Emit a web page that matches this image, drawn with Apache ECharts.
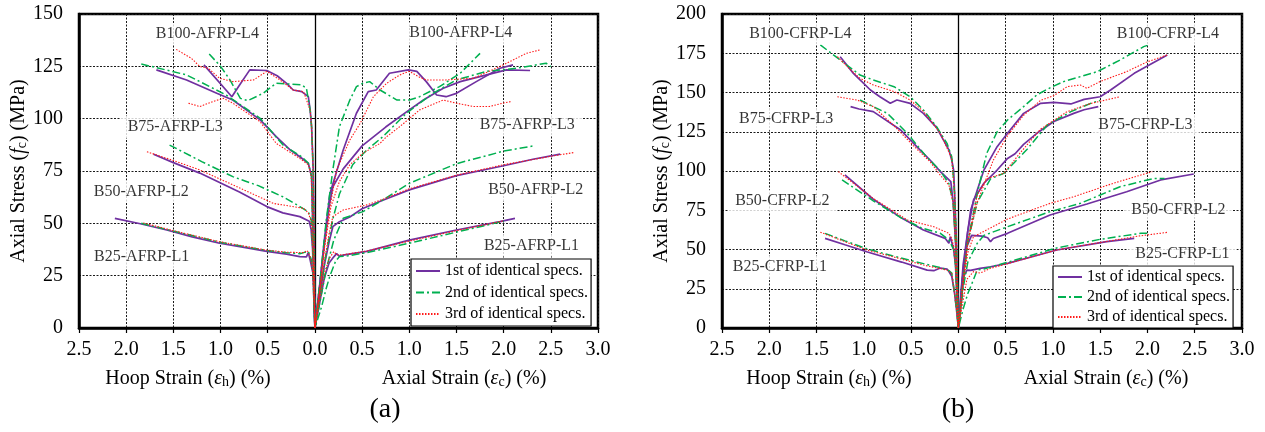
<!DOCTYPE html>
<html>
<head>
<meta charset="utf-8">
<script src="https://cdn.jsdelivr.net/npm/echarts@6/dist/echarts.min.js"></script>
<style>html,body{margin:0;padding:0;background:#fff}#c{width:1265px;height:432px}</style>
</head>
<body>
<div id="c"></div>
<script>
// ---------- tick labels ----------
const xTicks = [-2.5,-2.0,-1.5,-1.0,-0.5,0,0.5,1.0,1.5,2.0,2.5,3.0];
const yTicksA = [0,25,50,75,100,125,150];
const yTicksB = [0,25,50,75,100,125,150,175,200];
const replicateNames = ['1st of identical specs.','2nd of identical specs.','3rd of identical specs.'];

// ---------- panel (a) AFRP : [strain %, stress MPa]; hoop strain stored positive ----------
const aL1r1Hoop = [[0,0],[0.01,12],[0.02,26],[0.04,33],[0.05,32.5],[0.07,36],[0.09,34],[0.16,34.1],[0.3,35.3],[0.51,36.6],[0.75,38.5],[1.01,40.5],[1.3,43.5],[1.57,46.8],[1.85,49.8],[2.12,52.4]];
const aL1r2Hoop = [[0,0],[0.01,12],[0.02,26],[0.04,33],[0.07,36.6],[0.12,36],[0.16,35.5],[0.3,36],[0.51,37],[1.01,41],[1.5,46.3],[1.84,50]];
const aL1r3Hoop = [[0,0],[0.01,14],[0.025,28],[0.05,34],[0.08,37],[0.12,36],[0.3,36.2],[0.51,37.2],[1.01,41.2],[1.5,46.5],[1.82,50.2]];
const aL1r1Axial = [[0,0],[0.05,12],[0.1,24],[0.15,31],[0.2,34],[0.23,35.5],[0.26,34.2],[0.3,34.8],[0.55,36.6],[1.0,42],[1.5,46.8],[1.96,50.8],[2.12,52.4]];
const aL1r2Axial = [[0,0],[0.07,10],[0.12,19],[0.16,25],[0.22,32],[0.26,34.1],[0.35,34.5],[0.55,36],[1.0,40.5],[1.5,45.8],[2.0,51]];
const aL1r3Axial = [[0,0],[0.05,13],[0.1,26],[0.15,33],[0.2,36.5],[0.23,35],[0.3,35],[0.55,36.8],[1.0,41.5],[1.5,46.5],[2.0,51.2]];

const aL2r1Hoop = [[0,0],[0.01,20],[0.025,38],[0.04,47],[0.06,51],[0.16,53.2],[0.34,55],[0.51,58],[0.8,65],[1.22,74],[1.5,79],[1.71,83]];
const aL2r2Hoop = [[0,0],[0.01,20],[0.025,40],[0.04,52],[0.07,55.5],[0.16,58],[0.34,62.7],[0.6,68],[0.87,72.3],[1.2,79.5],[1.54,87.4]];
const aL2r3Hoop = [[0,0],[0.01,20],[0.025,40],[0.04,51],[0.07,55],[0.12,57.2],[0.44,59.5],[0.51,61],[0.9,69],[1.22,75.5],[1.5,80],[1.78,84.2]];
const aL2r1Axial = [[0,0],[0.05,15],[0.1,30],[0.15,41],[0.19,48.4],[0.26,50.8],[0.37,53],[0.5,57],[0.72,61],[1.0,66],[1.5,72.8],[2.0,77.5],[2.31,80.6],[2.6,83.1]];
const aL2r2Axial = [[0,0],[0.06,14],[0.12,28],[0.2,42],[0.3,52.4],[0.51,55.6],[0.72,61.2],[1.0,69.1],[1.5,78.5],[2.0,84.5],[2.33,87.1]];
const aL2r3Axial = [[0,0],[0.05,17],[0.1,32],[0.15,45],[0.19,53.2],[0.3,56.4],[0.55,58.8],[0.75,62],[1.0,66.5],[1.5,73],[2.0,78],[2.5,82],[2.74,83.8]];

const aL3r1Hoop = [[0,0],[0.01,15],[0.018,40],[0.03,62],[0.035,72.3],[0.07,78.7],[0.16,81.8],[0.26,85],[0.41,91.4],[0.58,99.4],[0.87,108.9],[1.04,112.1],[1.36,118.5],[1.68,123.3]];
const aL3r2Hoop = [[0,0],[0.01,15],[0.018,40],[0.03,62],[0.035,72.3],[0.07,78.7],[0.14,81.8],[0.34,87.5],[0.58,100.2],[0.94,111.3],[1.36,120.9],[1.84,126.1]];
const aL3r3Hoop = [[0,0],[0.01,15],[0.018,40],[0.03,62],[0.04,73],[0.07,78],[0.16,81],[0.41,88.2],[0.58,98.5],[0.87,107.4],[0.97,109.7],[1.08,108.2],[1.22,105.8],[1.34,107.4]];
const aL3r1Axial = [[0,0],[0.05,20],[0.1,40],[0.15,58],[0.19,67.5],[0.3,76],[0.5,87],[0.75,96],[1.0,104.2],[1.15,108.9],[1.36,114.5],[1.54,117.7],[1.82,120.9],[2.03,123.3],[2.28,123]];
const aL3r2Axial = [[0,0],[0.06,18],[0.12,36],[0.19,52],[0.26,64],[0.4,78],[0.55,85],[0.72,91.4],[0.97,102.6],[1.25,112.1],[1.5,118.5],[1.82,122.6],[2.14,124.1],[2.45,126.5],[2.5,124.9]];
const aL3r3Axial = [[0,0],[0.05,18],[0.1,38],[0.17,58],[0.26,70],[0.37,78],[0.51,83.5],[0.69,88.2],[0.76,91.4],[0.9,96.2],[1.11,104.2],[1.36,108.9],[1.5,107.4],[1.68,105.8],[1.85,105.8],[1.99,107.4],[2.08,108.2]];

const aL4r1Hoop = [[0,0],[0.01,50],[0.018,75.5],[0.035,96],[0.05,104],[0.07,110.5],[0.14,112.9],[0.23,113.7],[0.3,116.9],[0.4,120.5],[0.51,123],[0.69,123.3],[0.8,116],[0.88,110.5],[1.176,125.7]];
const aL4r2Hoop = [[0,0],[0.01,50],[0.018,75.5],[0.035,96],[0.05,104],[0.09,114.5],[0.14,116.1],[0.25,116.5],[0.41,116.9],[0.55,112.1],[0.71,108.6],[0.79,109.7],[0.9,118.5],[1.0,125],[1.12,130.9]];
const aL4r3Hoop = [[0,0],[0.01,50],[0.018,75.5],[0.035,96],[0.05,104],[0.12,112.9],[0.23,113.7],[0.37,118.5],[0.51,122.6],[0.65,118.5],[0.87,117.7],[1.01,119.3],[1.13,124.1],[1.22,124.9],[1.31,128.9],[1.47,133.1]];
const aL4r1Axial = [[0,0],[0.05,20],[0.1,42],[0.16,64.4],[0.3,85],[0.44,102.6],[0.565,112.9],[0.65,113.7],[0.79,121.7],[0.99,123.3],[1.08,122.6],[1.18,117.7],[1.29,111.3],[1.39,110.5],[1.5,112.1],[1.71,117.7],[1.96,124.1],[2.1,125.7]];
const aL4r2Axial = [[0,0],[0.06,25],[0.12,51.6],[0.19,75.5],[0.26,96.2],[0.37,108.9],[0.44,115.3],[0.51,116.9],[0.58,117.7],[0.69,113.7],[0.87,108.9],[1.0,108.9],[1.11,110.5],[1.32,115.3],[1.54,121.7],[1.75,131.2]];
const aL4r3Axial = [[0,0],[0.05,18],[0.1,38],[0.16,58],[0.23,75.5],[0.37,89.8],[0.48,97.8],[0.62,110.5],[0.76,116.9],[0.9,120.9],[1.0,122.6],[1.1,120],[1.18,118.5],[1.39,118.5],[1.68,119.3],[1.96,124.9],[2.24,131.2],[2.38,132.8]];

// ---------- panel (b) CFRP ----------
const bL1r1Hoop = [[0,0],[0.02,12],[0.04,22],[0.07,33],[0.1,36],[0.12,37.5],[0.19,38.2],[0.26,36.5],[0.33,36.9],[0.6,42],[0.97,48.6],[1.2,53],[1.41,57.1]];
const bL1r2Hoop = [[0,0],[0.02,12],[0.04,22],[0.07,35],[0.1,36.5],[0.19,38.5],[0.37,41],[0.7,46],[0.97,50.5],[1.2,55.5],[1.41,60.3]];
const bL1r3Hoop = [[0,0],[0.02,12],[0.04,22],[0.07,35],[0.12,36.9],[0.37,40.1],[0.7,45.5],[0.97,49.7],[1.2,55],[1.46,61]];
const bL1r1Axial = [[0,0],[0.03,16],[0.056,32.7],[0.09,36.9],[0.13,36.7],[0.23,38],[0.34,39],[0.52,41.2],[1.04,49.7],[1.57,55],[1.86,57.1]];
const bL1r2Axial = [[0,0],[0.05,12],[0.1,22],[0.13,26.3],[0.2,36.9],[0.27,37.6],[0.5,41.5],[1.04,51],[1.5,56.5],[1.93,60.3],[2.03,60.3]];
const bL1r3Axial = [[0,0],[0.04,14],[0.09,31],[0.16,35.9],[0.23,35],[0.34,38],[0.52,41],[1.04,49.7],[1.5,54.5],[1.9,58.5],[2.22,61]];

const bL2r1Hoop = [[0,0],[0.02,25],[0.03,40],[0.05,50],[0.085,58.2],[0.1,54],[0.14,57.1],[0.37,62.4],[0.6,70],[0.9,82],[1.2,97.5]];
const bL2r2Hoop = [[0,0],[0.02,25],[0.03,40],[0.05,50],[0.1,56],[0.19,60.3],[0.4,64],[0.6,70],[0.9,81],[1.23,94.3]];
const bL2r3Hoop = [[0,0],[0.02,25],[0.03,40],[0.05,52],[0.07,57],[0.1,60.3],[0.26,64.5],[0.54,68.8],[0.9,82.5],[1.27,99.6]];
const bL2r1Axial = [[0,0],[0.04,30],[0.09,52],[0.14,59],[0.25,58.5],[0.31,57.5],[0.34,55],[0.37,57],[0.52,60.3],[0.97,72],[1.36,79],[1.78,86.8],[2.14,94.3],[2.49,98.1]];
const bL2r2Axial = [[0,0],[0.05,25],[0.1,42],[0.2,54],[0.27,59],[0.52,64.5],[0.97,74.1],[1.29,79.4],[1.71,90],[2.07,95.3],[2.18,95.3]];
const bL2r3Axial = [[0,0],[0.05,28],[0.1,48],[0.16,58.2],[0.23,60.3],[0.52,69.4],[0.97,79.4],[1.22,83.6],[1.64,92.2],[2.05,99.6]];

const bL3r1Hoop = [[0,0],[0.03,55],[0.055,80],[0.08,93.2],[0.19,99.6],[0.3,107],[0.44,115.5],[0.61,126.1],[0.9,137.8],[1.05,139.5],[1.14,141]];
const bL3r2Hoop = [[0,0],[0.03,55],[0.055,80],[0.1,92],[0.19,100],[0.35,110],[0.54,124],[0.75,136.7],[0.9,141],[1.04,145.2]];
const bL3r3Hoop = [[0,0],[0.03,55],[0.055,80],[0.1,91],[0.2,98],[0.3,106],[0.44,114],[0.68,128.8],[0.9,141],[1.07,145.2],[1.28,147.3]];
const bL3r1Axial = [[0,0],[0.05,35],[0.1,62],[0.16,81.5],[0.27,92.2],[0.41,100.6],[0.52,108],[0.6,111],[0.69,117],[0.83,124],[1.01,131.5],[1.22,136.7],[1.33,139],[1.48,141]];
const bL3r2Axial = [[0,0],[0.05,30],[0.1,55],[0.2,80],[0.34,95],[0.48,98.5],[0.73,114],[0.94,129.3],[1.19,137.8],[1.4,143.1],[1.5,145]];
const bL3r3Axial = [[0,0],[0.05,30],[0.1,55],[0.2,85],[0.3,95],[0.48,98.5],[0.66,112],[0.87,126.7],[1.15,137.8],[1.4,143],[1.71,147.3]];

const bL4r1Hoop = [[0,0],[0.02,55],[0.04,85.8],[0.05,100.6],[0.07,107],[0.1,113.4],[0.23,127.6],[0.37,136.7],[0.51,143.1],[0.65,145.2],[0.72,143.1],[0.83,147.3],[0.93,151.6],[1.04,158],[1.11,162.2],[1.25,172.8]];
const bL4r2Hoop = [[0,0],[0.02,55],[0.04,85.8],[0.07,109.1],[0.12,117.6],[0.23,128.2],[0.37,138.9],[0.51,147.3],[0.68,153.7],[0.9,158],[1.04,161.1],[1.25,170.7],[1.46,180.3]];
const bL4r3Hoop = [[0,0],[0.02,55],[0.04,85.8],[0.07,108],[0.19,124],[0.37,138],[0.51,145.2],[0.68,150.6],[0.9,154.8],[1.04,159],[1.15,165],[1.28,172.8]];
const bL4r1Axial = [[0,0],[0.05,40],[0.13,75],[0.27,100.6],[0.41,115.5],[0.52,124],[0.69,136.7],[0.87,143.1],[1.01,143.7],[1.19,142.7],[1.33,145.6],[1.5,147.3],[1.61,151.6],[1.86,162.2],[2.21,173.9]];
const bL4r2Axial = [[0,0],[0.05,28],[0.09,52],[0.2,85.8],[0.3,111.3],[0.41,125],[0.52,132.5],[0.69,141],[0.83,148.5],[0.97,153],[1.11,156.9],[1.47,163.3],[1.71,170.7],[1.96,179.2],[2.0,180]];
const bL4r3Axial = [[0,0],[0.05,30],[0.1,55],[0.2,80],[0.37,107],[0.52,122.5],[0.69,135.5],[0.87,145],[1.01,148],[1.15,153.7],[1.29,154.8],[1.36,152.7],[1.5,157],[1.78,163.3],[2.0,169.6],[2.21,173.9]];

// ---------- curve labels (text, strain, stress) ----------
const labelsA = [
  ['B100-AFRP-L4',-1.14,140.5],['B100-AFRP-L4',1.545,140.8],
  ['B75-AFRP-L3',-1.48,96],['B75-AFRP-L3',2.25,97],
  ['B50-AFRP-L2',-1.84,65.2],['B50-AFRP-L2',2.34,65.8],
  ['B25-AFRP-L1',-1.836,33.9],['B25-AFRP-L1',2.295,39.4]
];
const labelsB = [
  ['B100-CFRP-L4',-1.672,187.4],['B100-CFRP-L4',2.217,187.4],
  ['B75-CFRP-L3',-1.822,133],['B75-CFRP-L3',1.979,129.3],
  ['B50-CFRP-L2',-1.862,81],['B50-CFRP-L2',2.328,75.3],
  ['B25-CFRP-L1',-1.887,39],['B25-CFRP-L1',2.37,47]
];

// ---------- build ----------
const FONT = '"Liberation Serif","Times New Roman",serif';
const repStyles = [
  {color:'#7030A0', type:'solid', width:1.7},
  {color:'#00B050', type:[8,3,2,3], width:1.5},
  {color:'#FF1A1A', type:[1.5,1.5], width:1.1}
];
const panelA = [
  [[aL1r1Hoop,aL1r1Axial],[aL1r2Hoop,aL1r2Axial],[aL1r3Hoop,aL1r3Axial]],
  [[aL2r1Hoop,aL2r1Axial],[aL2r2Hoop,aL2r2Axial],[aL2r3Hoop,aL2r3Axial]],
  [[aL3r1Hoop,aL3r1Axial],[aL3r2Hoop,aL3r2Axial],[aL3r3Hoop,aL3r3Axial]],
  [[aL4r1Hoop,aL4r1Axial],[aL4r2Hoop,aL4r2Axial],[aL4r3Hoop,aL4r3Axial]]
];
const panelB = [
  [[bL1r1Hoop,bL1r1Axial],[bL1r2Hoop,bL1r2Axial],[bL1r3Hoop,bL1r3Axial]],
  [[bL2r1Hoop,bL2r1Axial],[bL2r2Hoop,bL2r2Axial],[bL2r3Hoop,bL2r3Axial]],
  [[bL3r1Hoop,bL3r1Axial],[bL3r2Hoop,bL3r2Axial],[bL3r3Hoop,bL3r3Axial]],
  [[bL4r1Hoop,bL4r1Axial],[bL4r2Hoop,bL4r2Axial],[bL4r3Hoop,bL4r3Axial]]
];
function joinCurve(hoop, axial){
  const left = hoop.slice().reverse().map(p => [p[0] === 0 ? 0 : -p[0], p[1]]);
  return left.concat(axial.slice(1));
}
function panelSeries(panel, xi, yi){
  const out = [];
  for (let r = 0; r < 3; r++){
    panel.forEach(level => {
      const st = repStyles[r];
      out.push({
        type:'line', name: replicateNames[r], xAxisIndex: xi, yAxisIndex: yi,
        data: joinCurve(level[r][0], level[r][1]),
        symbol:'none', showSymbol:false, smooth:false, silent:true, z: 3 + r,
        lineStyle:{color: st.color, type: st.type, width: st.width},
        itemStyle:{color: st.color}
      });
    });
  }
  return out;
}
function labelSeries(labels, xi, yi){
  return {
    type:'scatter', xAxisIndex:xi, yAxisIndex:yi, symbolSize:0, silent:true, z:10,
    data: labels.map(l => ({name:l[0], value:[l[1], l[2]]})),
    label:{show:true, position:'inside', formatter:'{b}', fontFamily:FONT, fontSize:16, color:'#000',
      backgroundColor:'#fff', padding:[3,7]}
  };
}
const gridLine = {show:true, lineStyle:{color:'#1a1a1a', width:1, type:[2,1.5]}};
function mkX(gi){
  return {type:'value', gridIndex:gi, min:xTicks[0], max:xTicks[xTicks.length-1], interval:0.5,
    axisLine:{show:true, onZero:false, lineStyle:{color:'#000', width:2.5}},
    axisTick:{show:true, length:5, lineStyle:{color:'#000', width:1.2}},
    axisLabel:{margin:12, fontSize:20, color:'#000', fontFamily:FONT, showMinLabel:true, showMaxLabel:true,
      formatter: v => Math.abs(v).toFixed(1)},
    splitLine: gridLine};
}
const richName = {
  i:{fontFamily:FONT, fontSize:20, fontStyle:'italic', color:'#000'},
  s:{fontFamily:FONT, fontSize:14, color:'#000', verticalAlign:'bottom', lineHeight:12}
};
function mkY(gi, ticks){
  return {type:'value', gridIndex:gi, min:ticks[0], max:ticks[ticks.length-1], interval:25,
    axisLine:{show:true, onZero:false, lineStyle:{color:'#000', width:2.5}},
    axisTick:{show:false},
    axisLabel:{margin:16, fontSize:20, color:'#000', fontFamily:FONT},
    splitLine: gridLine,
    name:'Axial Stress ({i|f}{s|c}) (MPa)', nameLocation:'middle', nameGap:49,
    nameTextStyle:{fontFamily:FONT, fontSize:20, color:'#000', rich:richName}};
}
function mkZero(gi, ticks){
  return {type:'value', gridIndex:gi, min:ticks[0], max:ticks[ticks.length-1], interval:25, position:'left',
    axisLine:{show:true, onZero:true, lineStyle:{color:'#000', width:1.3}},
    axisTick:{show:true, length:5, lineStyle:{color:'#000', width:1}},
    axisLabel:{show:false}, splitLine:{show:false}};
}
function txt(x, y, text, size){
  return {type:'text', x:x, y:y, z:100, silent:true,
    style:{text:text, fontFamily:FONT, fontSize:size, fill:'#000', align:'center', verticalAlign:'middle',
      rich:{i:{fontFamily:FONT, fontSize:size, fontStyle:'italic', fill:'#000'},
            s:{fontFamily:FONT, fontSize:14, fill:'#000', verticalAlign:'bottom', lineHeight:12}}}};
}
function mkLegend(left, top, gap, pad){
  return {left:left, top:top, orient:'vertical', itemWidth:24, itemHeight:14, itemGap:gap,
    padding:[pad,3,pad,4], borderColor:'#000', borderWidth:1.2, backgroundColor:'#fff',
    itemStyle:{color:'rgba(0,0,0,0)', borderColor:'rgba(0,0,0,0)', borderWidth:0, opacity:0},
    textStyle:{fontFamily:FONT, fontSize:16, color:'#000', lineHeight:14},
    selectedMode:false, data: replicateNames};
}

const chart = echarts.init(document.getElementById('c'), null, {renderer:'canvas'});
chart.setOption({
  animation:false,
  backgroundColor:'#fff',
  textStyle:{fontFamily:FONT},
  grid:[
    {left:79, top:14, width:519, height:314, show:true, borderColor:'#000', borderWidth:2.5, backgroundColor:'transparent'},
    {left:722, top:14, width:520, height:314, show:true, borderColor:'#000', borderWidth:2.5, backgroundColor:'transparent'}
  ],
  xAxis:[mkX(0), mkX(1)],
  yAxis:[mkY(0, yTicksA), mkZero(0, yTicksA), mkY(1, yTicksB), mkZero(1, yTicksB)],
  legend:[mkLegend(411, 259, 5.5, 4), mkLegend(1053, 266, 4, 3)],
  series: [].concat(panelSeries(panelA, 0, 0), [labelSeries(labelsA, 0, 0)],
                    panelSeries(panelB, 1, 2), [labelSeries(labelsB, 1, 2)]),
  graphic:[
    txt(188, 379, 'Hoop Strain ({i|ε}{s|h}) (%)', 20),
    txt(464, 379, 'Axial Strain ({i|ε}{s|c}) (%)', 20),
    txt(829, 379, 'Hoop Strain ({i|ε}{s|h}) (%)', 20),
    txt(1106, 379, 'Axial Strain ({i|ε}{s|c}) (%)', 20),
    txt(385, 410, '(a)', 28),
    txt(958, 410, '(b)', 28)
  ]
});
</script>
</body>
</html>
